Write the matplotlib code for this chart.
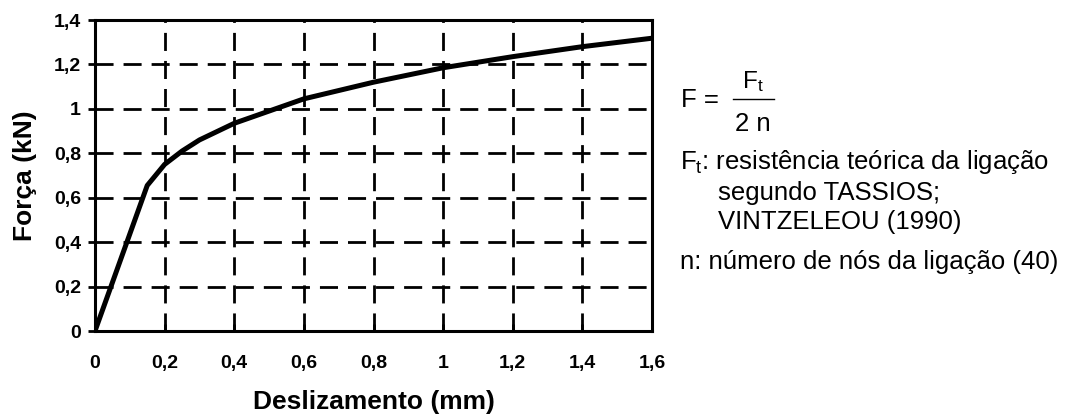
import matplotlib
matplotlib.use("Agg")
import matplotlib.pyplot as plt
from matplotlib.lines import Line2D

plt.rcParams['font.family'] = ['Liberation Sans', 'DejaVu Sans']
plt.rcParams['mathtext.fontset'] = 'custom'
plt.rcParams['mathtext.rm'] = 'Liberation Sans'
plt.rcParams['mathtext.it'] = 'Liberation Sans:italic'
plt.rcParams['mathtext.bf'] = 'Liberation Sans:bold'

# curva força x deslizamento
desliz = [0, 0.15, 0.2, 0.25, 0.3, 0.4, 0.5, 0.6, 0.8, 1.0, 1.2, 1.4, 1.6]
forca = [0, 0.655, 0.75, 0.81, 0.86, 0.935, 0.99, 1.045, 1.12, 1.185, 1.235, 1.28, 1.318]

xticks = [0, 0.2, 0.4, 0.6, 0.8, 1.0, 1.2, 1.4, 1.6]
xlabels = ['0', '0,2', '0,4', '0,6', '0,8', '1', '1,2', '1,4', '1,6']
yticks = [0, 0.2, 0.4, 0.6, 0.8, 1.0, 1.2, 1.4]
ylabels = ['0', '0,2', '0,4', '0,6', '0,8', '1', '1,2', '1,4']

W, H = 1074, 416
fig = plt.figure(figsize=(W / 100, H / 100), dpi=100)
ax = fig.add_axes([95 / W, 1 - 331 / H, 557 / W, 311 / H])

ax.plot(desliz, forca, color='black', lw=3.6, solid_joinstyle='round',
        solid_capstyle='round', zorder=3)

ax.set_xlim(0, 1.6)
ax.set_ylim(0, 1.4)
ax.set_xticks(xticks)
ax.set_xticklabels(xlabels, fontsize=14, fontweight='bold')
ax.set_yticks(yticks)
ax.set_yticklabels(ylabels, fontsize=14, fontweight='bold')
ax.tick_params(axis='x', direction='in', length=5, width=2, pad=17)
ax.tick_params(axis='y', direction='out', length=5, width=2, pad=5)
ax.grid(True, color='black', lw=2, linestyle=(0, (6.5, 3.6)))
for s in ax.spines.values():
    s.set_linewidth(2.2)

ax.set_xlabel('Deslizamento (mm)', fontsize=19, fontweight='bold', labelpad=13)
ax.set_ylabel('Força (kN)', fontsize=19, fontweight='bold', labelpad=12)

# fórmula F = Ft / (2 n)
fig.text(681 / W, 1 - 100 / H, 'F =', fontsize=18.5, va='center', ha='left')
fig.text(753 / W, 1 - 82 / H, r'F$_\mathrm{t}$', fontsize=17.5, va='center', ha='center')
fig.text(753 / W, 1 - 124 / H, '2 n', fontsize=18.5, va='center', ha='center')
fig.add_artist(Line2D([733 / W, 774 / W], [1 - 99 / H, 1 - 99 / H],
                      transform=fig.transFigure, color='black', lw=1))

fig.text(680 / W, 1 - 162 / H, r'F$_\mathrm{t}$: resistência teórica da ligação',
         fontsize=18.5, va='center', ha='left')
fig.text(718 / W, 1 - 193 / H, 'segundo TASSIOS;', fontsize=18.5, va='center', ha='left')
fig.text(718 / W, 1 - 222 / H, 'VINTZELEOU (1990)', fontsize=18.5, va='center', ha='left')
fig.text(680 / W, 1 - 262 / H, 'n: número de nós da ligação (40)', fontsize=18.5,
         va='center', ha='left')

fig.savefig('out.png', dpi=100)
